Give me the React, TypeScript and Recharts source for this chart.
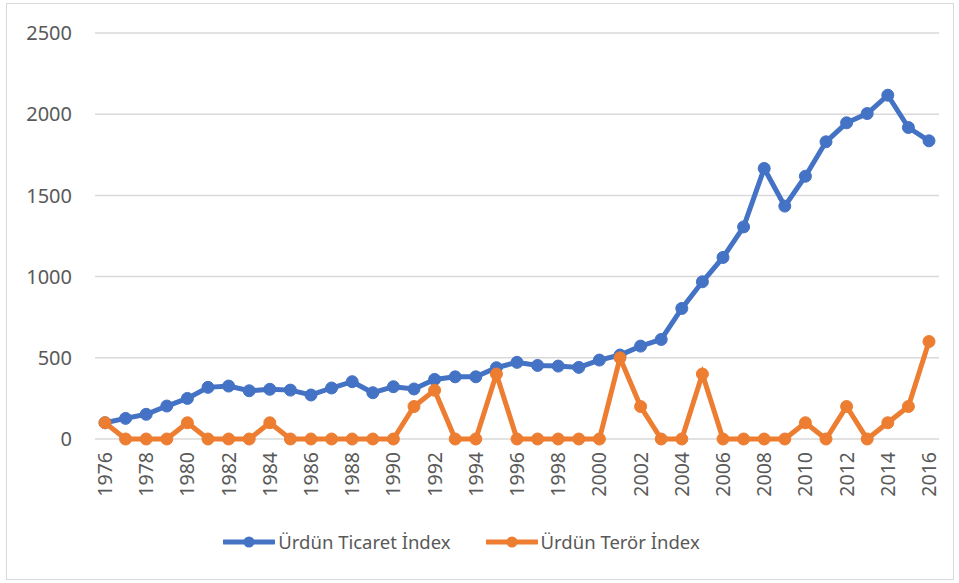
import { LineChart, Line, XAxis, YAxis, CartesianGrid } from 'recharts';

const years = [
  '1976', '1977', '1978', '1979', '1980', '1981', '1982', '1983', '1984', '1985',
  '1986', '1987', '1988', '1989', '1990', '1991', '1992', '1993', '1994', '1995',
  '1996', '1997', '1998', '1999', '2000', '2001', '2002', '2003', '2004', '2005',
  '2006', '2007', '2008', '2009', '2010', '2011', '2012', '2013', '2014', '2015', '2016',
];

const ticaret = [
  100, 127, 152, 203, 250, 318, 326, 297, 306, 301,
  271, 314, 353, 285, 322, 308, 367, 383, 383, 439,
  472, 453, 449, 441, 486, 517, 572, 613, 804, 968,
  1118, 1306, 1666, 1434, 1618, 1830, 1947, 2004, 2117, 1918, 1836,
];

const teror = [
  100, 0, 0, 0, 100, 0, 0, 0, 100, 0,
  0, 0, 0, 0, 0, 200, 300, 0, 0, 400,
  0, 0, 0, 0, 0, 500, 200, 0, 0, 400,
  0, 0, 0, 0, 100, 0, 200, 0, 100, 200, 600,
];

const yTicks = [0, 500, 1000, 1500, 2000, 2500];

const data = years.map((y, i) => ({ year: y, ticaret: ticaret[i], teror: teror[i] }));

const BLUE = '#4472C4';
const ORANGE = '#ED7D31';
const FONT = '"Noto Sans", sans-serif';
const TEXT = '#595959';

function YearTick(props: any) {
  const { x, y, payload } = props;
  return (
    <text
      x={x}
      y={y}
      transform={`rotate(-90 ${x} ${y})`}
      textAnchor="end"
      dy="0.36em"
      fill={TEXT}
      fontSize={19.5}
      fontFamily={FONT}
    >
      {payload.value}
    </text>
  );
}

function LegendItem({ color, label }: { color: string; label: string }) {
  return (
    <div style={{ display: 'flex', alignItems: 'center' }}>
      <svg width={52} height={14}>
        <line x1={1} y1={7} x2={51} y2={7} stroke={color} strokeWidth={5} strokeLinecap="round" />
        <circle cx={26} cy={7} r={5.5} fill={color} />
      </svg>
      <span style={{ marginLeft: 3, color: TEXT, fontSize: 18.5, fontFamily: FONT }}>{label}</span>
    </div>
  );
}

export default function App() {
  return (
    <div style={{ position: 'absolute', left: 0, top: 0, width: 959, height: 583, background: '#fff' }}>
      <div
        style={{
          position: 'absolute',
          left: 6,
          top: 3,
          width: 946,
          height: 575,
          border: '1px solid #d9d9d9',
        }}
      />
      <LineChart
        width={959}
        height={583}
        data={data}
        margin={{ top: 33, right: 20, bottom: 0, left: 0 }}
        style={{ position: 'absolute', left: 0, top: 0 }}
      >
        <CartesianGrid vertical={false} stroke="#d9d9d9" strokeWidth={1.5} />
        <XAxis
          dataKey="year"
          interval={1}
          height={144}
          tickLine={false}
          axisLine={false}
          tickSize={0}
          tickMargin={13}
          padding={{ left: 10, right: 10 }}
          tick={<YearTick />}
        />
        <YAxis
          width={95}
          domain={[0, 2500]}
          ticks={yTicks}
          tickLine={false}
          axisLine={false}
          tickSize={0}
          tickMargin={23}
          tick={{ fill: TEXT, fontSize: 20, fontFamily: FONT }}
        />
        <Line
          type="linear"
          dataKey="ticaret"
          name="Ürdün Ticaret İndex"
          stroke={BLUE}
          strokeWidth={5}
          dot={{ r: 6, fill: BLUE, stroke: BLUE, strokeWidth: 1 }}
          isAnimationActive={false}
        />
        <Line
          type="linear"
          dataKey="teror"
          name="Ürdün Terör İndex"
          stroke={ORANGE}
          strokeWidth={5}
          dot={{ r: 6, fill: ORANGE, stroke: ORANGE, strokeWidth: 1 }}
          isAnimationActive={false}
        />
      </LineChart>
      <div
        style={{
          position: 'absolute',
          left: 0,
          top: 529,
          width: 923,
          display: 'flex',
          justifyContent: 'center',
          gap: 35,
        }}
      >
        <LegendItem color={BLUE} label="Ürdün Ticaret İndex" />
        <LegendItem color={ORANGE} label="Ürdün Terör İndex" />
      </div>
    </div>
  );
}
